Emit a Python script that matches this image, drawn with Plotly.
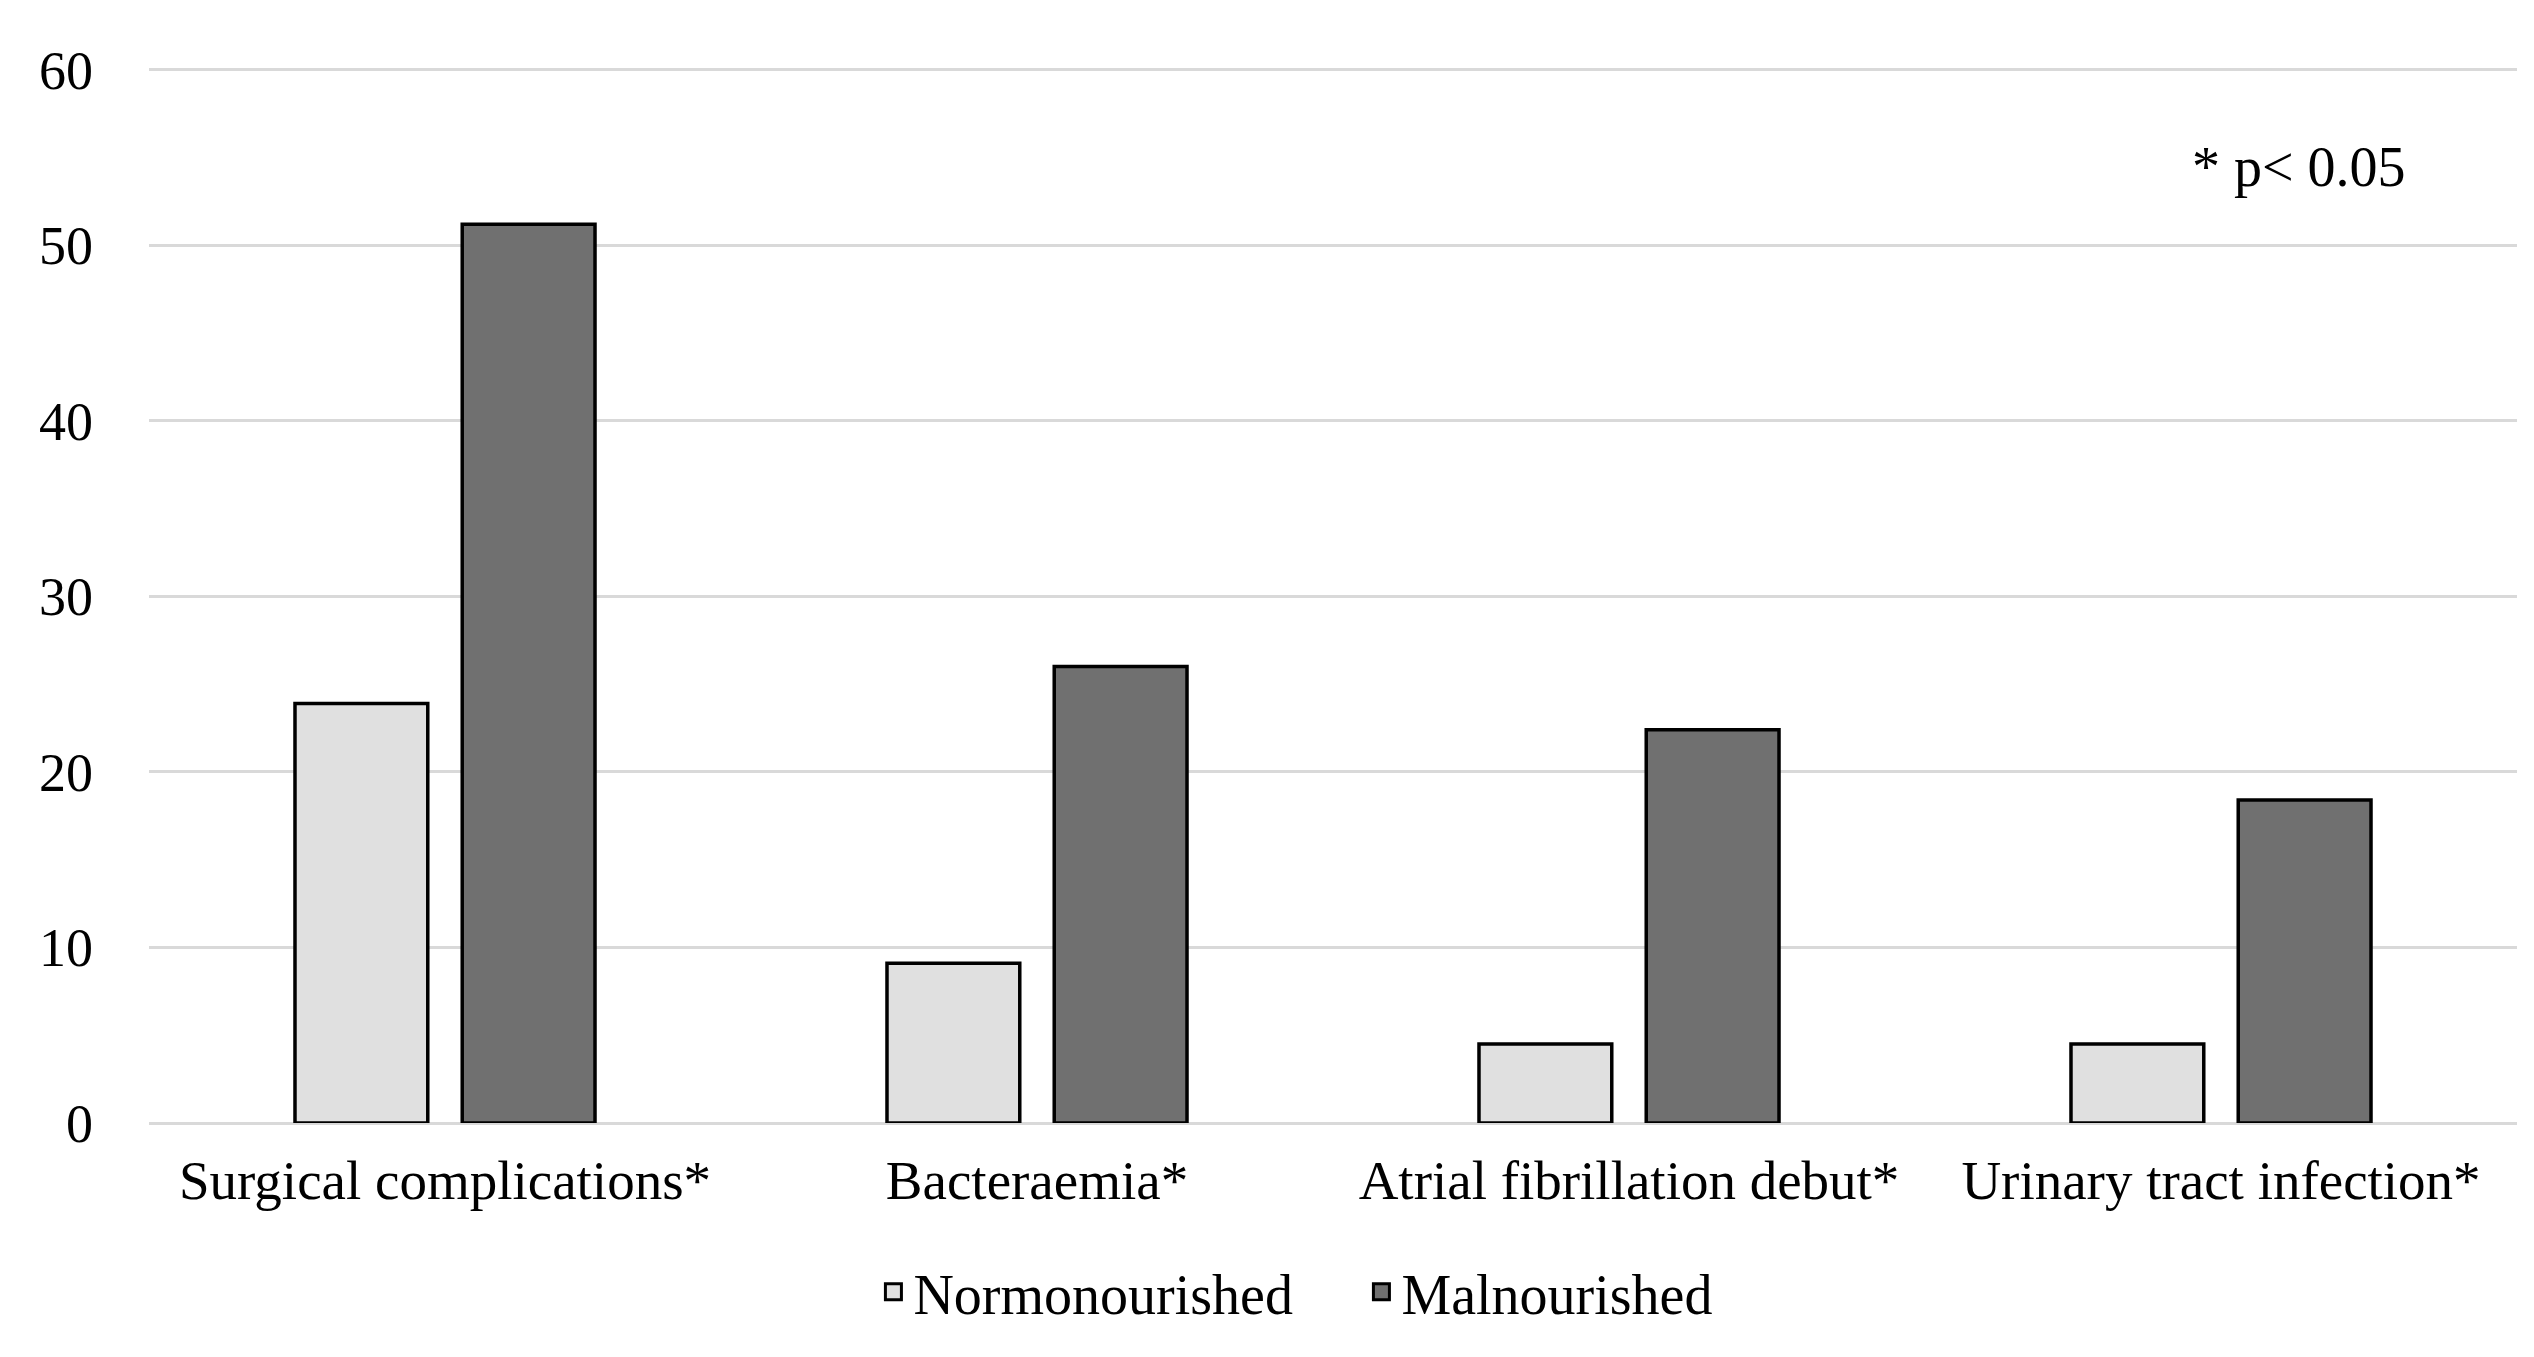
import plotly.graph_objects as go

categories = ["Surgical complications*", "Bacteraemia*", "Atrial fibrillation debut*", "Urinary tract infection*"]
normonourished = [23.9, 9.1, 4.5, 4.5]
malnourished = [51.2, 26.0, 22.4, 18.4]
y_ticks = [0, 10, 20, 30, 40, 50, 60]
series_names = ["Normonourished", "Malnourished"]
series_colors = ["#e0e0e0", "#707070"]

FONT = "Liberation Serif, Times New Roman, serif"

fig = go.Figure()
for name, vals, col in zip(series_names, [normonourished, malnourished], series_colors):
    fig.add_trace(go.Bar(
        x=categories, y=vals, name=name, showlegend=False,
        marker=dict(color=col, line=dict(color="black", width=3.5)),
    ))
# legend entries
for name, col in zip(series_names, series_colors):
    fig.add_trace(go.Scatter(
        x=[None], y=[None], mode="markers", name=name,
        marker=dict(symbol="square", size=16, color=col, line=dict(color="black", width=3)),
    ))

fig.update_layout(
    width=2534, height=1357,
    margin=dict(l=141, r=25, t=60, b=242),
    paper_bgcolor="white", plot_bgcolor="white",
    barmode="group", bargap=0.435, bargroupgap=0.206,
    font=dict(family=FONT, size=55, color="black"),
    legend=dict(orientation="h", x=0.512, xanchor="center", y=-0.16, yanchor="middle",
                font=dict(family=FONT, size=56, color="black"), itemsizing="trace",
                entrywidth=443, bgcolor="rgba(0,0,0,0)"),
    annotations=[dict(text="* p< 0.05", xref="paper", yref="paper", x=0.862, y=0.906,
                      xanchor="left", yanchor="middle", showarrow=False,
                      font=dict(family=FONT, size=56, color="black"))],
)
fig.update_yaxes(range=[0, 60.1], tickvals=y_ticks, ticktext=[str(v) for v in y_ticks],
                 showgrid=True, gridcolor="#d9d9d9", gridwidth=3,
                 zeroline=True, zerolinecolor="#d9d9d9", zerolinewidth=3,
                 showline=False, ticks="", ticklabelstandoff=55,
                 tickfont=dict(family=FONT, size=54, color="black"))
fig.update_xaxes(showline=False, ticks="", showgrid=False, ticklabelstandoff=20,
                 tickfont=dict(family=FONT, size=55, color="black"))

fig.write_html("out.html")
